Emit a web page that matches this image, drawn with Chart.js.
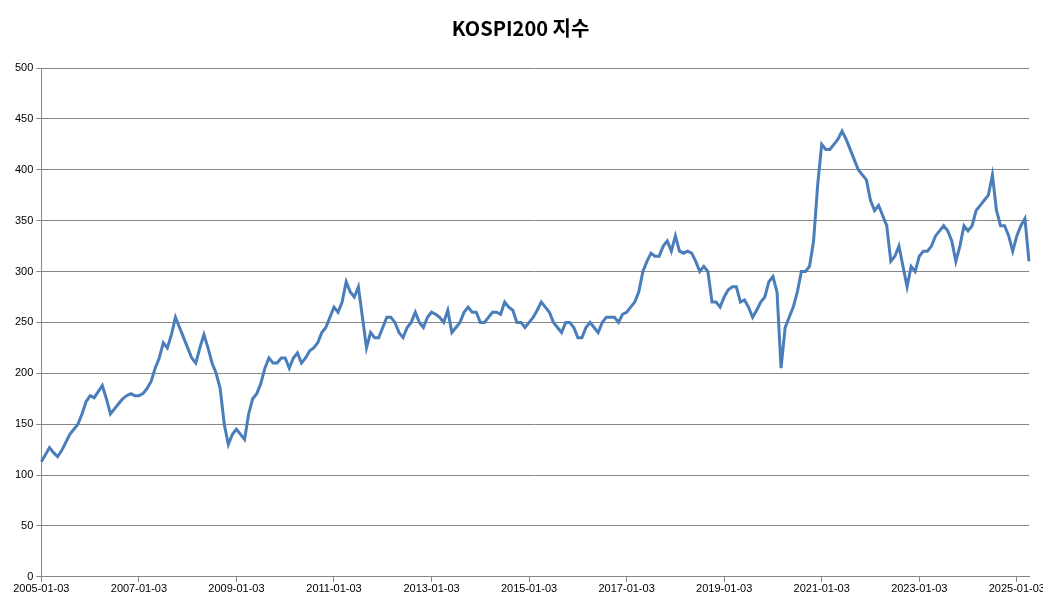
<!DOCTYPE html>
<html>
<head>
<meta charset="utf-8">
<script src="https://cdn.jsdelivr.net/npm/chart.js@4/dist/chart.umd.min.js"></script>
<style>
  html, body { margin: 0; padding: 0; background: #fff; }
  #wrap { width: 1043px; height: 610px; }
</style>
</head>
<body>
<div id="wrap"><canvas id="kospi-chart"></canvas></div>
<script>
const startYear = 2005;

// monthly values (2005-01 .. 2025-04)
const values = [
  113, 120, 127, 122, 118, 124, 132, 140, 145, 150, 160, 172,
  178, 176, 182, 188, 175, 160, 165, 170, 175, 178, 180, 178,
  178, 180, 185, 192, 205, 215, 230, 225, 238, 255, 245, 235,
  225, 215, 210, 225, 238, 225, 210, 200, 185, 150, 130, 140,
  145, 140, 135, 160, 175, 180, 190, 205, 215, 210, 210, 215,
  215, 205, 215, 220, 210, 215, 222, 225, 230, 240, 245, 255,
  265, 260, 270, 290, 280, 275, 285, 255, 225, 240, 235, 235,
  245, 255, 255, 250, 240, 235, 245, 250, 260, 250, 245, 255,
  260, 258, 255, 250, 262, 240, 245, 250, 260, 265, 260, 260,
  250, 250, 255, 260, 260, 258, 270, 265, 262, 250, 250, 245,
  250, 255, 262, 270, 265, 260, 250, 245, 240, 250, 250, 245,
  235, 235, 245, 250, 245, 240, 250, 255, 255, 255, 250, 258,
  260, 265, 270, 280, 300, 310, 318, 315, 315, 325, 330, 320,
  335, 320, 318, 320, 318, 310, 300, 305, 300, 270, 270, 265,
  275, 282, 285, 285, 270, 272, 265, 255, 262, 270, 275, 290,
  295, 280, 205, 245, 255, 265, 280, 300, 300, 305, 330, 385,
  425, 420, 420, 425, 430, 438, 430, 420, 410, 400, 395, 390,
  370, 360, 365, 355, 345, 310, 315, 325, 305, 285, 305, 300,
  315, 320, 320, 325, 335, 340, 345, 340, 330, 310, 325, 345,
  340, 345, 360, 365, 370, 375, 395, 360, 345, 345, 335, 320,
  335, 345, 352, 310,
];

const labels = values.map((_, i) => {
  const y = startYear + Math.floor(i / 12);
  const m = String((i % 12) + 1).padStart(2, "0");
  return y + "-" + m + "-03";
});

const yTicks = [0, 50, 100, 150, 200, 250, 300, 350, 400, 450, 500];

new Chart(document.getElementById("kospi-chart"), {
  type: "line",
  data: {
    labels: labels,
    datasets: [{
      data: values,
      borderColor: "#4a7ebb",
      borderWidth: 3,
      pointRadius: 0,
      tension: 0,
      fill: false,
    }],
  },
  options: {
    responsive: true,
    maintainAspectRatio: false,
    animation: false,
    layout: { padding: { left: 12, right: 14, top: 0, bottom: 13 } },
    plugins: {
      legend: { display: false },
      tooltip: { enabled: false },
      title: {
        display: true,
        text: "KOSPI200 지수",
        color: "#000",
        font: { family: "Noto Sans CJK KR", size: 20, weight: "bold" },
        padding: { top: 16, bottom: 28 },
      },
    },
    scales: {
      x: {
        type: "category",
        offset: false,
        grid: {
          drawOnChartArea: false,
          tickLength: 5,
          color: (c) => (c.index % 24 === 0 ? "#868686" : "transparent"),
        },
        border: { color: "#868686" },
        ticks: {
          autoSkip: false,
          maxRotation: 0,
          color: "#000",
          font: { family: "Liberation Sans", size: 11 },
          padding: 1,
          callback: function (v, i) { return i % 24 === 0 ? labels[i] : ""; },
        },
      },
      y: {
        min: 0,
        max: 500,
        afterBuildTicks: (axis) => { axis.ticks = yTicks.map((v) => ({ value: v })); },
        grid: { color: "#868686", tickLength: 5 },
        border: { color: "#868686" },
        ticks: {
          color: "#000",
          font: { family: "Liberation Sans", size: 11 },
        },
      },
    },
  },
});
</script>
</body>
</html>
